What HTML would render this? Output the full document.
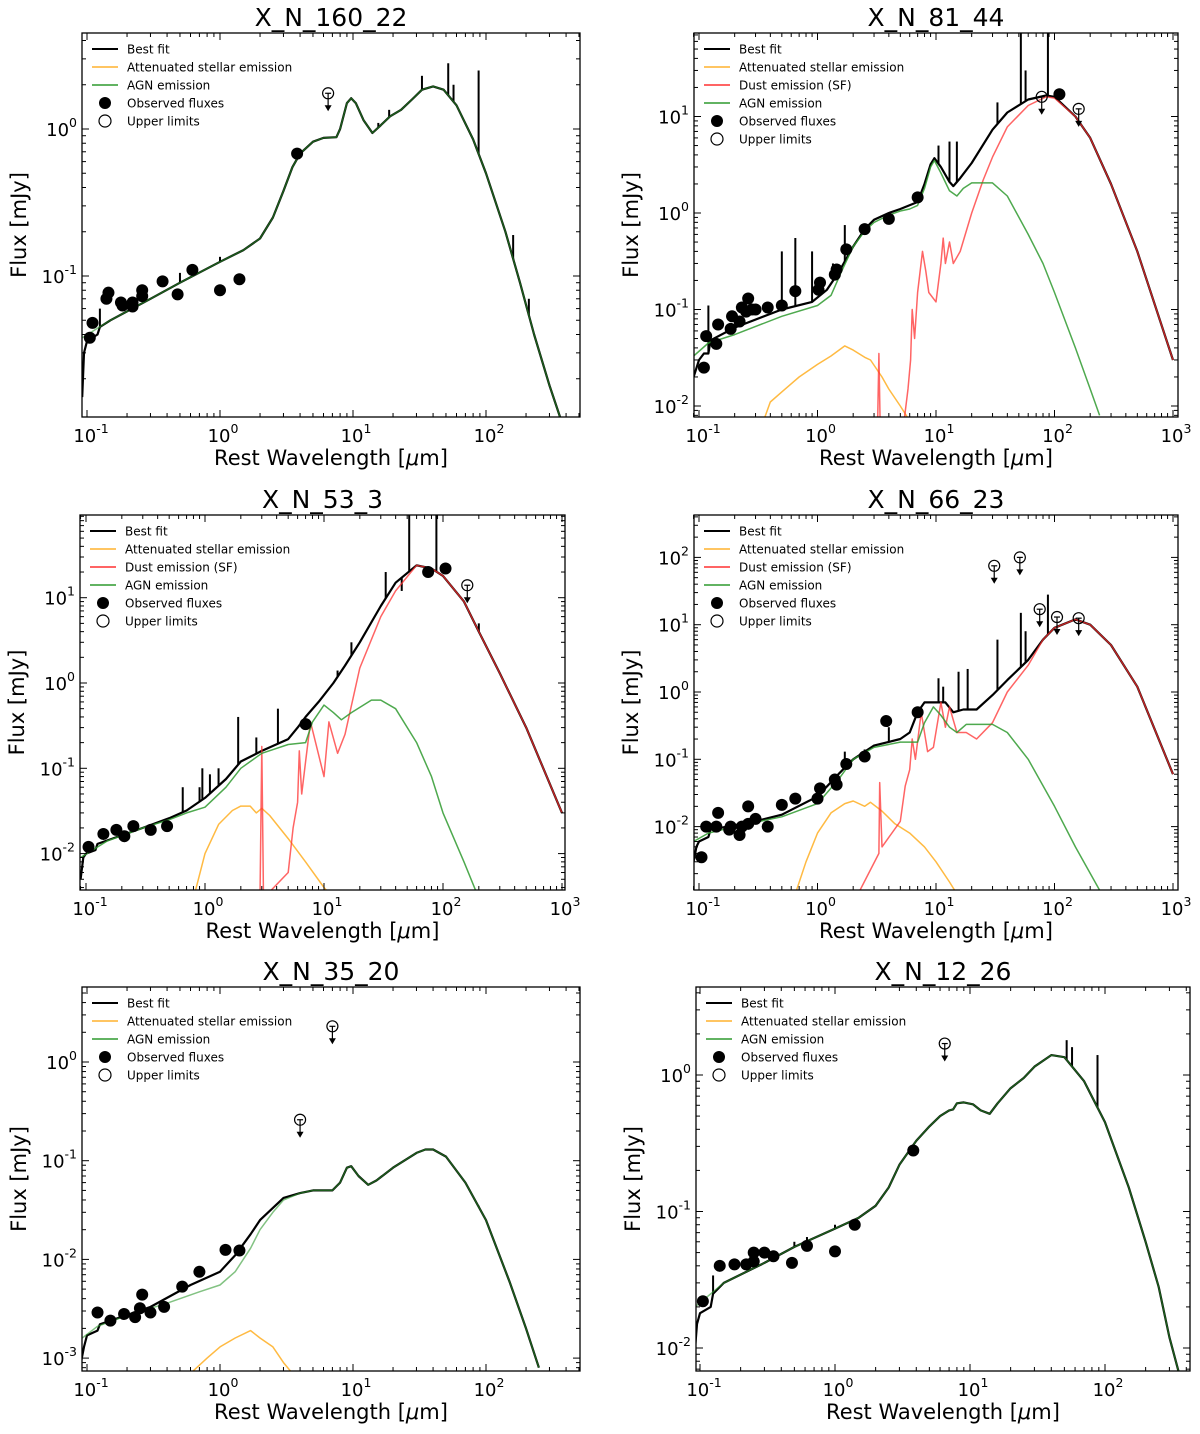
<!DOCTYPE html>
<html><head><meta charset="utf-8"><title>SED fits</title>
<style>
html,body{margin:0;padding:0;background:#fff;}
svg{display:block;font-family:"DejaVu Sans","Liberation Sans",sans-serif;}
</style></head>
<body>
<svg id="fig" width="1200" height="1434" viewBox="0 0 1200 1434" xmlns="http://www.w3.org/2000/svg"></svg>
<script>
// ===== Panel 1: X_N_160_22 =====
const agn1 = [[0.092,0.038],[0.15,0.05],[0.3,0.07],[0.5,0.09],[1,0.125],[1.5,0.15],[2,0.18],[2.5,0.25],[3,0.38],[3.5,0.55],[4,0.68],[5,0.82],[6,0.87],[7.5,0.88],[8,1.0],[9,1.5],[9.7,1.62],[10.5,1.5],[12,1.15],[14,0.94],[16,1.05],[19,1.22],[23,1.35],[28,1.6],[33,1.85],[40,1.95],[48,1.85],[60,1.45],[80,0.85],[100,0.5],[140,0.2],[180,0.09],[230,0.04],[300,0.018],[360,0.011]];
const hook1 = [[0.092,0.015],[0.095,0.03],[0.1,0.036],[0.12,0.04],[0.125,0.045]];
const lines1 = [[0.125,0.06],[0.5,0.105],[1,0.135],[15.5,1.1],[18.7,1.35],[33,2.3],[52,2.8],[57,2.0],[88,2.5],[160,0.19],[210,0.07]];
const obs1 = [[0.105,0.038],[0.11,0.048],[0.14,0.07],[0.145,0.077],[0.18,0.066],[0.185,0.063],[0.22,0.062],[0.22,0.066],[0.26,0.08],[0.26,0.073],[0.37,0.092],[0.48,0.075],[0.62,0.11],[1.0,0.08],[1.4,0.095],[3.8,0.68]];
const ul1 = [[6.5,1.75]];

// ===== Panel 2: X_N_81_44 =====
const agn2 = [[0.09,0.033],[0.12,0.045],[0.2,0.055],[0.5,0.085],[1,0.11],[1.3,0.14],[1.6,0.25],[2,0.45],[2.5,0.65],[3,0.8],[4,0.95],[5,1.05],[6,1.1],[7,1.2],[8,1.8],[9,3.0],[9.7,3.5],[11,2.6],[13,1.7],[15,1.5],[17,1.8],[20,2.05],[30,2.05],[40,1.5],[60,0.6],[80,0.3],[100,0.15],[150,0.04],[200,0.015],[240,0.008]];
const dust2 = [[3.2,0.005],[3.3,0.035],[3.4,0.004],[5.3,0.006],[5.8,0.015],[6.1,0.03],[6.3,0.1],[6.6,0.05],[7,0.15],[7.7,0.4],[8.2,0.25],[8.7,0.15],[10,0.12],[11,0.3],[11.5,0.55],[12,0.3],[13,0.5],[14,0.3],[16,0.4],[20,1.0],[25,2.2],[30,3.8],[40,7.8],[60,13],[85,16],[100,15.5],[150,10],[200,6],[300,2],[500,0.4],[1000,0.03]];
const best2a = [[0.09,0.02],[0.1,0.03],[0.11,0.035],[0.12,0.035],[0.125,0.048],[0.2,0.065],[0.5,0.1],[0.9,0.12],[1.2,0.16],[1.5,0.24],[2,0.45],[2.5,0.68],[3,0.85],[4,1.0],[5,1.1],[7,1.3],[8,2.0],[9,3.2],[9.7,3.7],[11,3.0],[13,2.1],[14,1.9],[16,2.3],[20,3.3],[30,7.3],[40,11],[60,15],[85,16.5],[100,16]];
const stel2 = [[0.35,0.007],[0.4,0.011],[0.5,0.014],[0.7,0.02],[1,0.027],[1.3,0.033],[1.7,0.042],[2,0.038],[2.5,0.032],[2.8,0.03],[3.5,0.02],[4,0.015],[5,0.01],[6,0.007]];
const lines2 = [[0.12,0.11],[0.5,0.4],[0.65,0.55],[0.9,0.4],[1.35,0.3],[1.7,0.75],[10.5,5],[13,5.5],[15,5.5],[33,14],[52,80],[57,30],[88,80]];
const obs2 = [[0.11,0.025],[0.115,0.053],[0.14,0.044],[0.145,0.07],[0.185,0.063],[0.19,0.085],[0.22,0.075],[0.23,0.105],[0.25,0.095],[0.26,0.13],[0.28,0.1],[0.3,0.1],[0.38,0.105],[0.5,0.11],[0.65,0.155],[1.02,0.16],[1.05,0.19],[1.4,0.23],[1.45,0.26],[1.75,0.42],[2.5,0.68],[4,0.87],[7,1.45],[110,17]];
const ul2 = [[78,16],[160,12]];

// ===== Panel 3: X_N_53_3 =====
const agn3 = [[0.09,0.009],[0.15,0.014],[0.3,0.02],[0.5,0.025],[0.7,0.03],[1,0.035],[1.5,0.06],[2,0.1],[3,0.15],[5,0.19],[7,0.2],[8,0.35],[10,0.55],[12,0.45],[14,0.37],[17,0.45],[25,0.63],[30,0.63],[40,0.5],[60,0.2],[80,0.08],[100,0.03],[150,0.008],[200,0.003]];
const dust3 = [[2.9,0.003],[3.0,0.18],[3.1,0.003],[5,0.006],[5.5,0.02],[6,0.04],[6.2,0.16],[6.5,0.05],[7,0.12],[7.7,0.35],[8.5,0.2],[10,0.08],[11,0.35],[13,0.15],[15,0.25],[20,1.5],[30,6],[40,12],[60,24],[80,22],[100,18],[150,9],[200,4],[300,1.3],[500,0.3],[1000,0.03]];
const best3a = [[0.09,0.005],[0.095,0.009],[0.1,0.01],[0.12,0.011],[0.125,0.013],[0.3,0.02],[0.5,0.026],[0.7,0.032],[1,0.045],[1.5,0.075],[2,0.12],[3,0.16],[5,0.22],[6,0.3],[7,0.4],[9,0.6],[12,1.0],[15,1.6],[20,3],[30,8],[40,15],[60,24]];
const stel3 = [[0.8,0.003],[1,0.01],[1.3,0.022],[1.7,0.032],[2,0.036],[2.4,0.036],[2.7,0.03],[3,0.034],[3.5,0.028],[5,0.015],[7,0.008],[10,0.004],[12,0.003]];
const lines3 = [[0.65,0.06],[0.9,0.06],[0.95,0.1],[1.1,0.085],[1.3,0.1],[1.9,0.4],[2.7,0.23],[4.1,0.5],[10.5,0.8],[13,1.4],[17,3],[33,20],[45,12],[52,100],[88,100],[200,5]];
const obs3 = [[0.105,0.012],[0.14,0.017],[0.18,0.019],[0.21,0.016],[0.25,0.021],[0.35,0.019],[0.48,0.021],[7,0.33],[75,20],[105,22]];
const ul3 = [[160,14]];

// ===== Panel 4: X_N_66_23 =====
const agn4 = [[0.09,0.006],[0.12,0.008],[0.2,0.01],[0.5,0.014],[1,0.022],[1.5,0.05],[2,0.1],[3,0.15],[5,0.18],[7,0.18],[8,0.35],[9.5,0.6],[11,0.45],[13,0.3],[15,0.25],[18,0.33],[30,0.33],[40,0.25],[60,0.1],[100,0.02],[150,0.005],[250,0.001]];
const dust4 = [[2.2,0.001],[3.3,0.004],[3.35,0.045],[3.5,0.005],[5,0.012],[5.5,0.04],[6,0.07],[6.3,0.2],[6.7,0.1],[7.5,0.5],[8.5,0.13],[9.5,0.15],[11,0.7],[12,0.3],[13,0.6],[15,0.25],[18,0.25],[22,0.2],[30,0.35],[40,1.0],[60,2.5],[80,6],[100,9],[150,12],[200,10],[300,5],[500,1.2],[1000,0.06]];
const best4a = [[0.09,0.003],[0.095,0.005],[0.1,0.006],[0.12,0.007],[0.125,0.009],[0.3,0.012],[0.5,0.015],[1,0.028],[1.5,0.06],[2,0.1],[3,0.16],[5,0.2],[6,0.25],[7,0.5],[8,0.7],[10,0.7],[12,0.7],[14,0.5],[17,0.55],[22,0.55],[30,0.9],[40,1.5],[60,3],[80,6],[100,9]];
const stel4 = [[0.65,0.001],[0.8,0.003],[1,0.008],[1.3,0.016],[1.7,0.022],[2,0.024],[2.5,0.02],[2.8,0.023],[3.5,0.017],[4.5,0.011],[6,0.008],[8,0.005],[10,0.003],[13,0.0015],[15,0.001]];
const lines4 = [[1.7,0.13],[2.5,0.14],[4,0.3],[10.5,1.6],[11.5,1.2],[15.5,2],[18.5,2.2],[33,6],[52,15],[57,8],[88,28]];
const obs4 = [[0.105,0.0035],[0.115,0.01],[0.14,0.01],[0.145,0.016],[0.18,0.009],[0.185,0.01],[0.22,0.0075],[0.23,0.01],[0.26,0.02],[0.26,0.011],[0.3,0.013],[0.38,0.01],[0.5,0.021],[0.65,0.026],[1,0.026],[1.05,0.037],[1.4,0.05],[1.45,0.042],[1.75,0.085],[2.5,0.11],[3.8,0.37],[7,0.5]];
const ul4 = [[31,75],[51,100],[75,17],[105,13],[160,12.5]];

// ===== Panel 5: X_N_35_20 =====
const agn5 = [[0.092,0.0016],[0.12,0.0021],[0.2,0.0027],[0.4,0.0036],[0.7,0.0047],[1,0.0055],[1.3,0.0075],[1.7,0.013],[2,0.02],[2.5,0.03],[3,0.04],[4,0.047],[5,0.05],[7,0.05],[8,0.06],[9,0.085],[9.7,0.088],[11,0.07],[13,0.057],[15,0.063],[20,0.085],[30,0.12],[35,0.13],[40,0.13],[50,0.11],[70,0.06],[100,0.025],[150,0.006],[200,0.002],[250,0.0008]];
const best5a = [[0.09,0.0009],[0.095,0.0013],[0.1,0.0017],[0.12,0.0019],[0.125,0.0022],[0.3,0.0033],[0.6,0.0055],[1,0.0075],[1.3,0.011],[1.7,0.018],[2,0.025],[3,0.042]];
const stel5 = [[0.6,0.0007],[0.8,0.001],[1,0.0013],[1.3,0.0016],[1.7,0.0019],[2,0.0016],[2.5,0.0013],[3,0.0009],[3.5,0.0007]];
const lines5 = [[88,0.035]];
const obs5 = [[0.12,0.0029],[0.15,0.0024],[0.19,0.0028],[0.23,0.0026],[0.25,0.0032],[0.26,0.0044],[0.3,0.0029],[0.38,0.0033],[0.52,0.0053],[0.7,0.0075],[1.1,0.0125],[1.4,0.0123]];
const ul5 = [[4,0.26],[7,2.3]];

// ===== Panel 6: X_N_12_26 =====
const agn6 = [[0.092,0.02],[0.15,0.03],[0.3,0.042],[0.5,0.055],[1,0.075],[1.5,0.09],[2,0.11],[2.5,0.15],[3,0.22],[4,0.33],[5,0.42],[6,0.5],[7,0.55],[7.5,0.56],[8,0.62],[9,0.63],[10.5,0.61],[12,0.55],[14,0.52],[16,0.62],[20,0.8],[25,0.95],[30,1.15],[40,1.4],[50,1.35],[70,0.9],[100,0.45],[150,0.15],[200,0.06],[250,0.028],[300,0.012],[350,0.0068]];
const hook6 = [[0.092,0.01],[0.095,0.015],[0.1,0.018],[0.12,0.02],[0.125,0.025]];
const lines6 = [[0.125,0.034],[0.5,0.06],[0.62,0.065],[1,0.08],[52,1.8],[57,1.6],[88,1.4]];
const obs6 = [[0.105,0.022],[0.14,0.04],[0.18,0.041],[0.22,0.041],[0.25,0.05],[0.25,0.043],[0.3,0.05],[0.35,0.047],[0.48,0.042],[0.62,0.056],[1.0,0.051],[1.4,0.08],[3.8,0.28]];
const ul6 = [[6.5,1.7]];

const NS = "http://www.w3.org/2000/svg";
const svg = document.getElementById('fig');
function mk(tag, attrs, parent){
  const e = document.createElementNS(NS, tag);
  for (const k in attrs) e.setAttribute(k, attrs[k]);
  (parent||svg).appendChild(e);
  return e;
}
const C_BLACK='#000', C_ORANGE='#ffb22e', C_RED='#ff3030', C_GREEN='#2f9a2f';

function interpLog(arr, w){
  const lw=Math.log10(w);
  for(let i=0;i<arr.length-1;i++){
    const a=Math.log10(arr[i][0]), b=Math.log10(arr[i+1][0]);
    if(lw>=a && lw<=b){
      const t=(lw-a)/(b-a||1);
      return Math.pow(10, Math.log10(arr[i][1])*(1-t)+Math.log10(arr[i+1][1])*t);
    }
  }
  return arr[arr.length-1][1];
}

function panel(cfg, idx){
  const g = mk('g', {});
  
  
  const L=cfg.L,T=cfg.T,R=cfg.R,B=cfg.B;
  const X = w => cfg.x0 + cfg.xd*(Math.log10(w)+1);
  const Y = f => cfg.y0 - cfg.yd*Math.log10(f);
  const cid='clip'+idx;
  const cp = mk('clipPath',{id:cid},g); mk('rect',{x:L,y:T,width:R-L,height:B-T},cp);
  const plot = mk('g',{'clip-path':'url(#'+cid+')'},g);
  
  
  const path=(arr,color,w,op,name)=>{
    const d=arr.map((p,i)=>(i?'L':'M')+X(p[0]).toFixed(1)+','+Y(p[1]).toFixed(1)).join('');
    const e=mk('path',{d:d,fill:'none',stroke:color,'stroke-width':w,'stroke-opacity':op,'stroke-linejoin':'round'},plot);
    
    
  };
  if(cfg.stel) path(cfg.stel,C_ORANGE,1.5,0.9,'stellar-emission-line');
  path(cfg.best,C_BLACK,2.2,1,'best-fit-line');
  (cfg.lines||[]).forEach(s=>{
    const base=interpLog(cfg.best,s[0]);
    const e=mk('line',{x1:X(s[0]),x2:X(s[0]),y1:Y(base),y2:Y(s[1]),stroke:'#000','stroke-width':2},plot);
    
    
  });
  if(cfg.dust) path(cfg.dust,C_RED,1.5,0.75,'dust-emission-line');
  path(cfg.agn,C_GREEN,1.5,cfg.dust?0.85:0.6,'agn-emission-line');
  cfg.obs.forEach(p=>{
    const e=mk('circle',{cx:X(p[0]),cy:Y(p[1]),r:6,fill:'#000'},plot);
    
    
  });
  cfg.ul.forEach(p=>{
    const cx=X(p[0]), cy=Y(p[1]);
    const ug=mk('g',{},plot);
    
    
    mk('line',{x1:cx,x2:cx,y1:cy,y2:cy+14,stroke:'#000','stroke-width':1.2},ug);
    mk('polygon',{points:`${cx-3.5},${cy+12} ${cx+3.5},${cy+12} ${cx},${cy+18}`,fill:'#000'},ug);
    mk('circle',{cx:cx,cy:cy,r:5.5,fill:'none',stroke:'#000','stroke-width':1.2},ug);
    mk('line',{x1:cx-3,x2:cx+3,y1:cy,y2:cy,stroke:'#000','stroke-width':1.2},ug);
  });
  const fr=mk('rect',{x:L,y:T,width:R-L,height:B-T,fill:'none',stroke:'#000','stroke-width':1.3},g);
  
  
  const xt=mk('g',{},g);
  
  
  for(let d=-2; d<=3; d++){
    for(let m=1;m<10;m++){
      const x=X(m*Math.pow(10,d)); if(x<L-0.5||x>R+0.5) continue;
      const len=m==1?7:4;
      mk('line',{x1:x,x2:x,y1:B,y2:B-len,stroke:'#000','stroke-width':1},xt);
      mk('line',{x1:x,x2:x,y1:T,y2:T+len,stroke:'#000','stroke-width':1},xt);
      if(m==1){
        const t=mk('text',{x:x+(d<0?4:3),y:B+25,'font-size':18,'text-anchor':'middle'},xt);
        t.appendChild(document.createTextNode('10'));
        const s=mk('tspan',{dy:-9,'font-size':12.5},t); s.textContent=d<0?'-'+(-d):String(d);
      }
    }
  }
  const yt=mk('g',{},g);
  
  
  for(let d=-4; d<=3; d++){
    for(let m=1;m<10;m++){
      const y=Y(m*Math.pow(10,d)); if(y<T-0.5||y>B+0.5) continue;
      const len=m==1?7:4;
      mk('line',{x1:L,x2:L+len,y1:y,y2:y,stroke:'#000','stroke-width':1},yt);
      mk('line',{x1:R,x2:R-len,y1:y,y2:y,stroke:'#000','stroke-width':1},yt);
      if(m==1){
        const t=mk('text',{x:L-5,y:y+7,'font-size':18,'text-anchor':'end'},yt);
        t.appendChild(document.createTextNode('10'));
        const s=mk('tspan',{dy:-9,'font-size':12.5},t); s.textContent=d<0?'-'+(-d):String(d);
      }
    }
  }
  const tt=mk('text',{x:(L+R)/2,y:T-7,'font-size':25,'text-anchor':'middle'},g);
  
  
  tt.textContent=cfg.title;
  const xl=mk('text',{x:(L+R)/2,y:B+48,'font-size':21,'text-anchor':'middle'},g);
  
  
  xl.appendChild(document.createTextNode('Rest Wavelength ['));
  const mu=mk('tspan',{'font-style':'italic'},xl); mu.textContent='\u03bc';
  xl.appendChild(document.createTextNode('m]'));
  const yl=mk('text',{x:0,y:0,'font-size':21,'text-anchor':'middle',transform:`translate(${L-56},${(T+B)/2}) rotate(-90)`},g);
  
  
  yl.textContent='Flux [mJy]';
  const lg=mk('g',{'font-size':12},g);
  
  
  const entries=[['line',C_BLACK,'Best fit'],['line',C_ORANGE,'Attenuated stellar emission']];
  if(cfg.dust) entries.push(['line',C_RED,'Dust emission (SF)']);
  entries.push(['line',C_GREEN,'AGN emission'],['dot','#000','Observed fluxes'],['open','#000','Upper limits']);
  entries.forEach((e,i)=>{
    const y=T+16+i*18;
    const eg=mk('g',{},lg);
    
    
    if(e[0]=='line') mk('line',{x1:L+10,x2:L+36,y1:y,y2:y,stroke:e[1],'stroke-width':e[1]==C_BLACK?2:1.5},eg);
    else if(e[0]=='dot') mk('circle',{cx:L+23,cy:y,r:6,fill:'#000'},eg);
    else mk('circle',{cx:L+23,cy:y,r:6,fill:'none',stroke:'#000','stroke-width':1.2},eg);
    const t=mk('text',{x:L+45,y:y+4.5},eg); t.textContent=e[2];
  });
}

panel({title:'X_N_160_22',L:82,T:33,R:580,B:417,x0:87,xd:133,y0:129,yd:147,agn:agn1,best:hook1.concat(agn1.filter(p=>p[0]>0.13)),lines:lines1,obs:obs1,ul:ul1,stel:null},1);
panel({title:'X_N_81_44',L:694,T:33,R:1178,B:417,x0:699,xd:118.5,y0:213,yd:96.5,agn:agn2,dust:dust2,best:best2a.concat(dust2.filter(p=>p[0]>100)),stel:stel2,lines:lines2,obs:obs2,ul:ul2},2);
panel({title:'X_N_53_3',L:80,T:515,R:565,B:890,x0:86,xd:119,y0:683,yd:85.3,agn:agn3,dust:dust3,best:best3a.concat(dust3.filter(p=>p[0]>60)),stel:stel3,lines:lines3,obs:obs3,ul:ul3},3);
panel({title:'X_N_66_23',L:694,T:515,R:1178,B:890,x0:699,xd:118.5,y0:692,yd:67.3,agn:agn4,dust:dust4,best:best4a.concat(dust4.filter(p=>p[0]>100)),stel:stel4,lines:lines4,obs:obs4,ul:ul4},4);
panel({title:'X_N_35_20',L:82,T:987,R:580,B:1371,x0:87,xd:133,y0:1062,yd:98.7,agn:agn5,best:best5a.concat(agn5.filter(p=>p[0]>=4)),stel:stel5,lines:lines5,obs:obs5,ul:ul5},5);
panel({title:'X_N_12_26',L:696,T:987,R:1190,B:1371,x0:700,xd:135,y0:1075,yd:136.5,agn:agn6,best:hook6.concat(agn6.filter(p=>p[0]>0.13)),lines:lines6,obs:obs6,ul:ul6,stel:null},6);
</script>
</body></html>
